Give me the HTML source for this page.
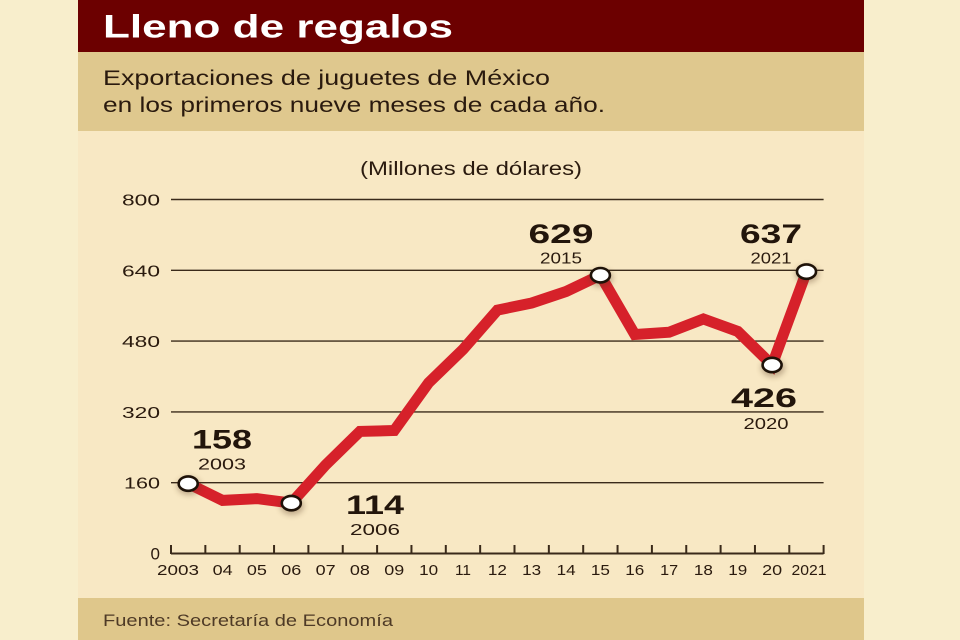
<!DOCTYPE html>
<html><head><meta charset="utf-8"><style>
html,body{margin:0;padding:0;background:#f8eecc;}
svg{display:block;}
text{font-family:"Liberation Sans",sans-serif;}
</style></head><body>
<svg width="960" height="640" viewBox="0 0 960 640" xmlns="http://www.w3.org/2000/svg">
<defs>
<filter id="sh" x="-100%" y="-100%" width="300%" height="300%"><feGaussianBlur stdDeviation="3"/></filter>
</defs>
<rect x="0" y="0" width="960" height="640" fill="#f8eecc"/>
<rect x="78" y="0" width="786" height="640" fill="#f8e8c4"/>
<rect x="78" y="0" width="786" height="52" fill="#6c0000"/>
<rect x="78" y="52" width="786" height="79" fill="#dfc88e"/>
<rect x="78" y="598" width="786" height="42" fill="#dfc78b"/>
<text x="103" y="37.5" font-size="32" font-weight="bold" fill="#ffffff" textLength="350" lengthAdjust="spacingAndGlyphs">Lleno de regalos</text>
<text x="103" y="85" font-size="21" fill="#2a1a0e" textLength="447" lengthAdjust="spacingAndGlyphs">Exportaciones de juguetes de México</text>
<text x="103" y="112" font-size="21" fill="#2a1a0e" textLength="502" lengthAdjust="spacingAndGlyphs">en los primeros nueve meses de cada año.</text>
<text x="360" y="175" font-size="19" fill="#2a1a0e" textLength="222" lengthAdjust="spacingAndGlyphs">(Millones de dólares)</text>
<g stroke="#3a2a1a" stroke-width="1.4">
<line x1="171" y1="199.5" x2="823.6" y2="199.5"/>
<line x1="171" y1="270.3" x2="823.6" y2="270.3"/>
<line x1="171" y1="341.1" x2="823.6" y2="341.1"/>
<line x1="171" y1="411.9" x2="823.6" y2="411.9"/>
<line x1="171" y1="482.7" x2="823.6" y2="482.7"/>
</g>
<g font-size="16" fill="#2a1a0e" text-anchor="end">
<text x="160" y="205.5" textLength="38" lengthAdjust="spacingAndGlyphs">800</text>
<text x="160" y="276.3" textLength="38" lengthAdjust="spacingAndGlyphs">640</text>
<text x="160" y="347.1" textLength="38" lengthAdjust="spacingAndGlyphs">480</text>
<text x="160" y="417.9" textLength="38" lengthAdjust="spacingAndGlyphs">320</text>
<text x="160" y="488.7" textLength="36" lengthAdjust="spacingAndGlyphs">160</text>
<text x="160" y="559.5" font-size="17">0</text>
</g>
<g stroke="#3a2a1a" stroke-width="2">
<line x1="171" y1="553.5" x2="823.6" y2="553.5"/>
<line x1="171" y1="545" x2="171" y2="554"/>
<line x1="205.35" y1="545" x2="205.35" y2="554"/>
<line x1="239.7" y1="545" x2="239.7" y2="554"/>
<line x1="274.05" y1="545" x2="274.05" y2="554"/>
<line x1="308.4" y1="545" x2="308.4" y2="554"/>
<line x1="342.75" y1="545" x2="342.75" y2="554"/>
<line x1="377.1" y1="545" x2="377.1" y2="554"/>
<line x1="411.45" y1="545" x2="411.45" y2="554"/>
<line x1="445.8" y1="545" x2="445.8" y2="554"/>
<line x1="480.15" y1="545" x2="480.15" y2="554"/>
<line x1="514.5" y1="545" x2="514.5" y2="554"/>
<line x1="548.85" y1="545" x2="548.85" y2="554"/>
<line x1="583.2" y1="545" x2="583.2" y2="554"/>
<line x1="617.55" y1="545" x2="617.55" y2="554"/>
<line x1="651.9" y1="545" x2="651.9" y2="554"/>
<line x1="686.25" y1="545" x2="686.25" y2="554"/>
<line x1="720.6" y1="545" x2="720.6" y2="554"/>
<line x1="754.95" y1="545" x2="754.95" y2="554"/>
<line x1="789.3" y1="545" x2="789.3" y2="554"/>
<line x1="823.6" y1="545" x2="823.6" y2="554"/>
</g>
<g font-size="15" fill="#2a1a0e" text-anchor="middle">
<text x="178" y="575" textLength="42" lengthAdjust="spacingAndGlyphs">2003</text>
<text x="222.6" y="575" textLength="20" lengthAdjust="spacingAndGlyphs">04</text>
<text x="256.9" y="575" textLength="20" lengthAdjust="spacingAndGlyphs">05</text>
<text x="291.3" y="575" textLength="20" lengthAdjust="spacingAndGlyphs">06</text>
<text x="325.6" y="575" textLength="20" lengthAdjust="spacingAndGlyphs">07</text>
<text x="359.9" y="575" textLength="20" lengthAdjust="spacingAndGlyphs">08</text>
<text x="394.3" y="575" textLength="20" lengthAdjust="spacingAndGlyphs">09</text>
<text x="428.7" y="575" textLength="19" lengthAdjust="spacingAndGlyphs">10</text>
<text x="463.0" y="575" textLength="16" lengthAdjust="spacingAndGlyphs">11</text>
<text x="497.4" y="575" textLength="19" lengthAdjust="spacingAndGlyphs">12</text>
<text x="531.7" y="575" textLength="19" lengthAdjust="spacingAndGlyphs">13</text>
<text x="566.1" y="575" textLength="19" lengthAdjust="spacingAndGlyphs">14</text>
<text x="600.4" y="575" textLength="19" lengthAdjust="spacingAndGlyphs">15</text>
<text x="634.8" y="575" textLength="19" lengthAdjust="spacingAndGlyphs">16</text>
<text x="669.1" y="575" textLength="18" lengthAdjust="spacingAndGlyphs">17</text>
<text x="703.4" y="575" textLength="19" lengthAdjust="spacingAndGlyphs">18</text>
<text x="737.8" y="575" textLength="19" lengthAdjust="spacingAndGlyphs">19</text>
<text x="772.1" y="575" textLength="20" lengthAdjust="spacingAndGlyphs">20</text>
<text x="809" y="575" textLength="35" lengthAdjust="spacingAndGlyphs">2021</text>
</g>
<polyline fill="none" stroke="#d6212a" stroke-width="11" stroke-linejoin="miter" stroke-miterlimit="3"
points="188.2,483.6 222.6,500.4 256.9,498.6 291.3,503.1 325.6,465.0 359.9,431.4 394.3,430.5 428.7,382.7 463.0,349.5 497.4,310.1 531.7,303.0 566.1,291.5 600.4,275.2 634.8,334.5 669.1,332.2 703.4,319.0 737.8,331.4 772.1,365.0 806.5,271.6"/>
<g fill="#5a3a20" opacity="0.35" filter="url(#sh)">
<ellipse cx="189" cy="486" rx="12" ry="9"/>
<ellipse cx="292" cy="506" rx="12" ry="9"/>
<ellipse cx="601" cy="278" rx="12" ry="9"/>
<ellipse cx="773" cy="368" rx="12" ry="9"/>
<ellipse cx="807" cy="274" rx="12" ry="9"/>
</g>
<g fill="#ffffff" stroke="#1e1208" stroke-width="2.6">
<ellipse cx="188.2" cy="483.6" rx="9.5" ry="7.2"/>
<ellipse cx="291.3" cy="503.1" rx="9.5" ry="7.2"/>
<ellipse cx="600.4" cy="275.2" rx="9.5" ry="7.2"/>
<ellipse cx="772.1" cy="365.0" rx="9.5" ry="7.2"/>
<ellipse cx="806.5" cy="271.6" rx="9.5" ry="7.2"/>
</g>
<g fill="#22150b" text-anchor="middle" font-weight="bold" font-size="27">
<text x="222" y="448.5" textLength="60" lengthAdjust="spacingAndGlyphs">158</text>
<text x="375" y="514" textLength="58" lengthAdjust="spacingAndGlyphs">114</text>
<text x="561" y="243" textLength="65" lengthAdjust="spacingAndGlyphs">629</text>
<text x="771" y="243" textLength="62" lengthAdjust="spacingAndGlyphs">637</text>
<text x="764" y="407" textLength="66" lengthAdjust="spacingAndGlyphs">426</text>
</g>
<g fill="#2a1a0e" text-anchor="middle" font-size="16">
<text x="222" y="469.5" textLength="48" lengthAdjust="spacingAndGlyphs">2003</text>
<text x="375" y="535" textLength="50" lengthAdjust="spacingAndGlyphs">2006</text>
<text x="561" y="263.5" textLength="42" lengthAdjust="spacingAndGlyphs">2015</text>
<text x="771" y="263.5" textLength="41" lengthAdjust="spacingAndGlyphs">2021</text>
<text x="766" y="429" textLength="45" lengthAdjust="spacingAndGlyphs">2020</text>
</g>
<text x="103" y="626" font-size="17" fill="#4e3a26" textLength="290" lengthAdjust="spacingAndGlyphs">Fuente: Secretaría de Economía</text>
</svg>
</body></html>
